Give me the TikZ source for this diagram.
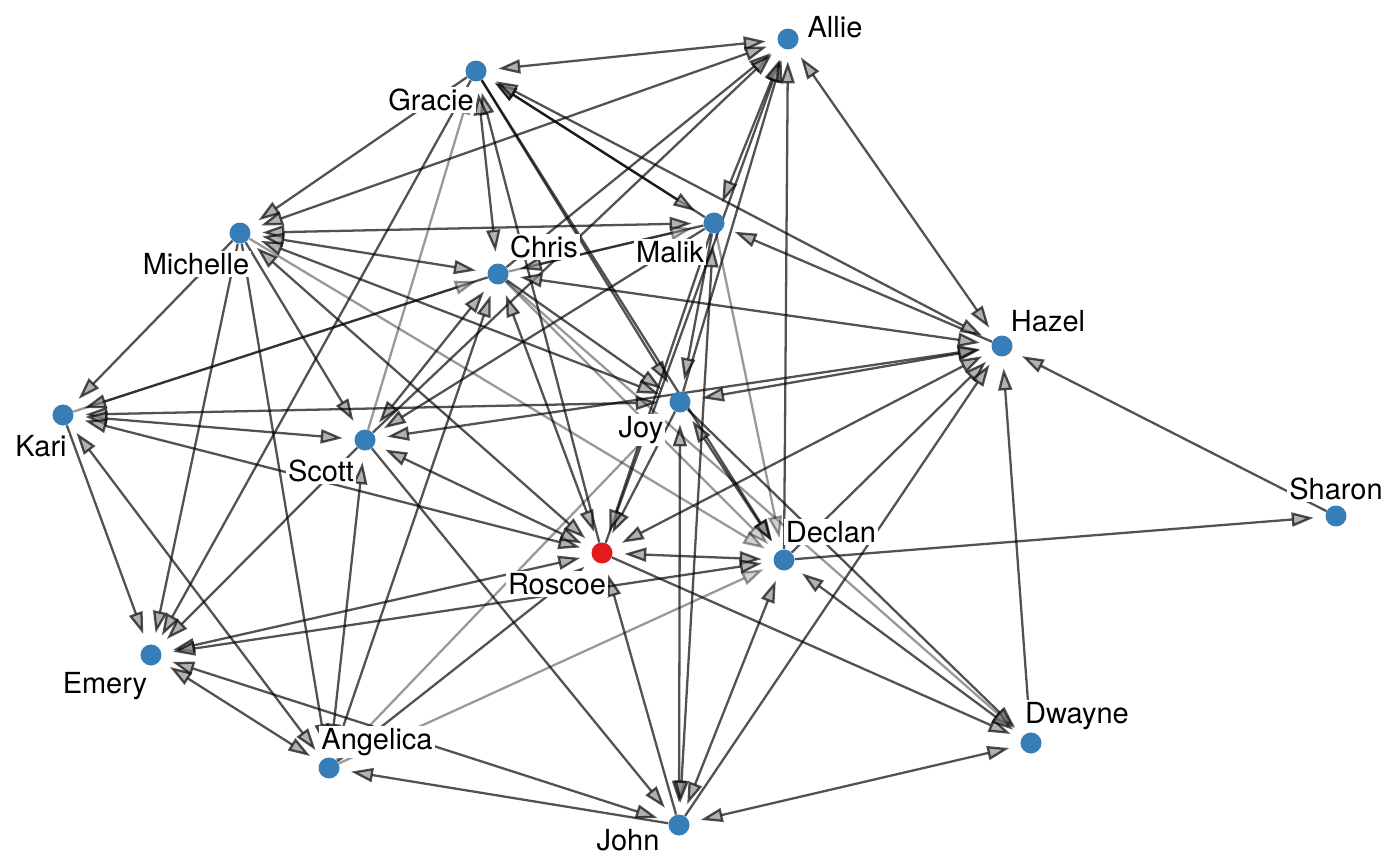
\documentclass[tikz,border=0pt]{standalone}
\usepackage{fontspec}
\setmainfont{TeX Gyre Heros}
\usetikzlibrary{arrows.meta}
\definecolor{nodeblue}{HTML}{377EB8}
\definecolor{nodered}{HTML}{E41A1C}
\pgfdeclarelayer{edges}
\pgfdeclarelayer{labels}
\pgfsetlayers{edges,labels,main}
\tikzset{headtri/.tip={Triangle[length=0.44cm,width=0.28cm,fill=black!45]}}
\begin{document}
\begin{tikzpicture}[x=0.02cm,y=-0.02cm,
  vert/.style={circle,fill=nodeblue,draw=none,minimum size=0.42cm,inner sep=0pt},
  ego/.style={vert,fill=nodered},
  lab/.style={fill=white,inner sep=1.2pt,font=\fontsize{16.5}{18}\selectfont},
  tie/.style={line width=1.3pt,draw=black,opacity=0.68,shorten >=0.23cm,-headtri},
  mutual/.style={tie,shorten <=0.23cm,headtri-headtri},
  weak/.style={tie,opacity=0.4}]
\useasboundingbox (0,0) rectangle (1400,865);
% actors
\node[vert] (Al) at (788,39) {};
\node[vert] (Gr) at (476,71) {};
\node[vert] (Ma) at (714,223) {};
\node[vert] (Mi) at (240,233) {};
\node[vert] (Ch) at (498,274) {};
\node[vert] (Ha) at (1002,346) {};
\node[vert] (Jo) at (680,402) {};
\node[vert] (Ka) at (63,415) {};
\node[vert] (Sc) at (365,440) {};
\node[vert] (Sh) at (1336,516) {};
\node[ego]  (Ro) at (602,553) {};
\node[vert] (De) at (784,560) {};
\node[vert] (Em) at (151,655) {};
\node[vert] (Dw) at (1031,743) {};
\node[vert] (An) at (329,768) {};
\node[vert] (Jn) at (679,825) {};
% ties
\begin{pgfonlayer}{edges}
% one-way ties
\foreach \s/\t in {Ch/Al,Sc/Al,Ro/Al,Jo/Al,De/Al,
  Ro/Gr,Gr/Jo,Gr/De,Gr/Em,Gr/Mi,Ma/Gr,
  Mi/Ka,Mi/Em,Mi/An,Mi/Sc,
  Ch/Ka,Ma/Ch,Ch/Jo,An/Ch,
  Ka/Em,Ha/Ma,De/Ha,Jn/Ha,Dw/Ha,Sh/Ha,
  Ma/Jo,Jo/Ro,Jo/Dw,Ma/Sc,Ma/Ro,
  Sc/Em,Sc/Jn,Jn/Ro,Ro/Dw,An/Ro,De/Sh,Jn/An}
  \draw[tie] (\s) -- (\t);
% ties in both directions
\foreach \s/\t in {Gr/Al,Mi/Al,Al/Ha,Al/Ma,Gr/Ma,Gr/Ha,Gr/Ch,
  Mi/Ma,Mi/Ch,Mi/Jo,Mi/Ro,Ch/Ha,Ch/Ro,Sc/Ch,
  Jo/Ka,Ka/Sc,Ka/An,Ka/Ro,Jo/Ha,Sc/Ha,Ha/Ro,
  Jo/De,Jo/Jn,Ma/Jn,Sc/Ro,Sc/An,Ro/De,Ro/Em,
  De/Dw,De/Em,De/Jn,Em/An,Jn/Em,Jn/Dw}
  \draw[mutual] (\s) -- (\t);
% light ties
\foreach \s/\t in {Sc/Gr,Ka/Ch,Ch/Ma,Mi/De,Ch/De,Ch/Dw,Ma/De,An/Jo,An/De}
  \draw[weak] (\s) -- (\t);
\end{pgfonlayer}
% names
\begin{pgfonlayer}{labels}
\node[lab] (lAl) at (835,27) {Allie};
\node[lab] (lGr) at (431,100) {Gracie};
\node[lab] (lMa) at (670,252) {Malik};
\node[lab] (lMi) at (196,264) {Michelle};
\node[lab] (lCh) at (544,247) {Chris};
\node[lab] (lHa) at (1048,321) {Hazel};
\node[lab] (lJo) at (641,430) {Joy};
\node[lab] (lKa) at (41,446) {Kari};
\node[lab] (lSc) at (321,471) {Scott};
\node[lab] (lSh) at (1336,489) {Sharon};
\node[lab] (lRo) at (557,584) {Roscoe};
\node[lab] (lDe) at (831,532) {Declan};
\node[lab] (lEm) at (105,686) {Emery};
\node[lab] (lDw) at (1077,716) {Dwayne};
\node[lab] (lAn) at (377,742) {Angelica};
\node[lab] (lJn) at (628,840) {John};
\end{pgfonlayer}
\end{tikzpicture}
\end{document}
